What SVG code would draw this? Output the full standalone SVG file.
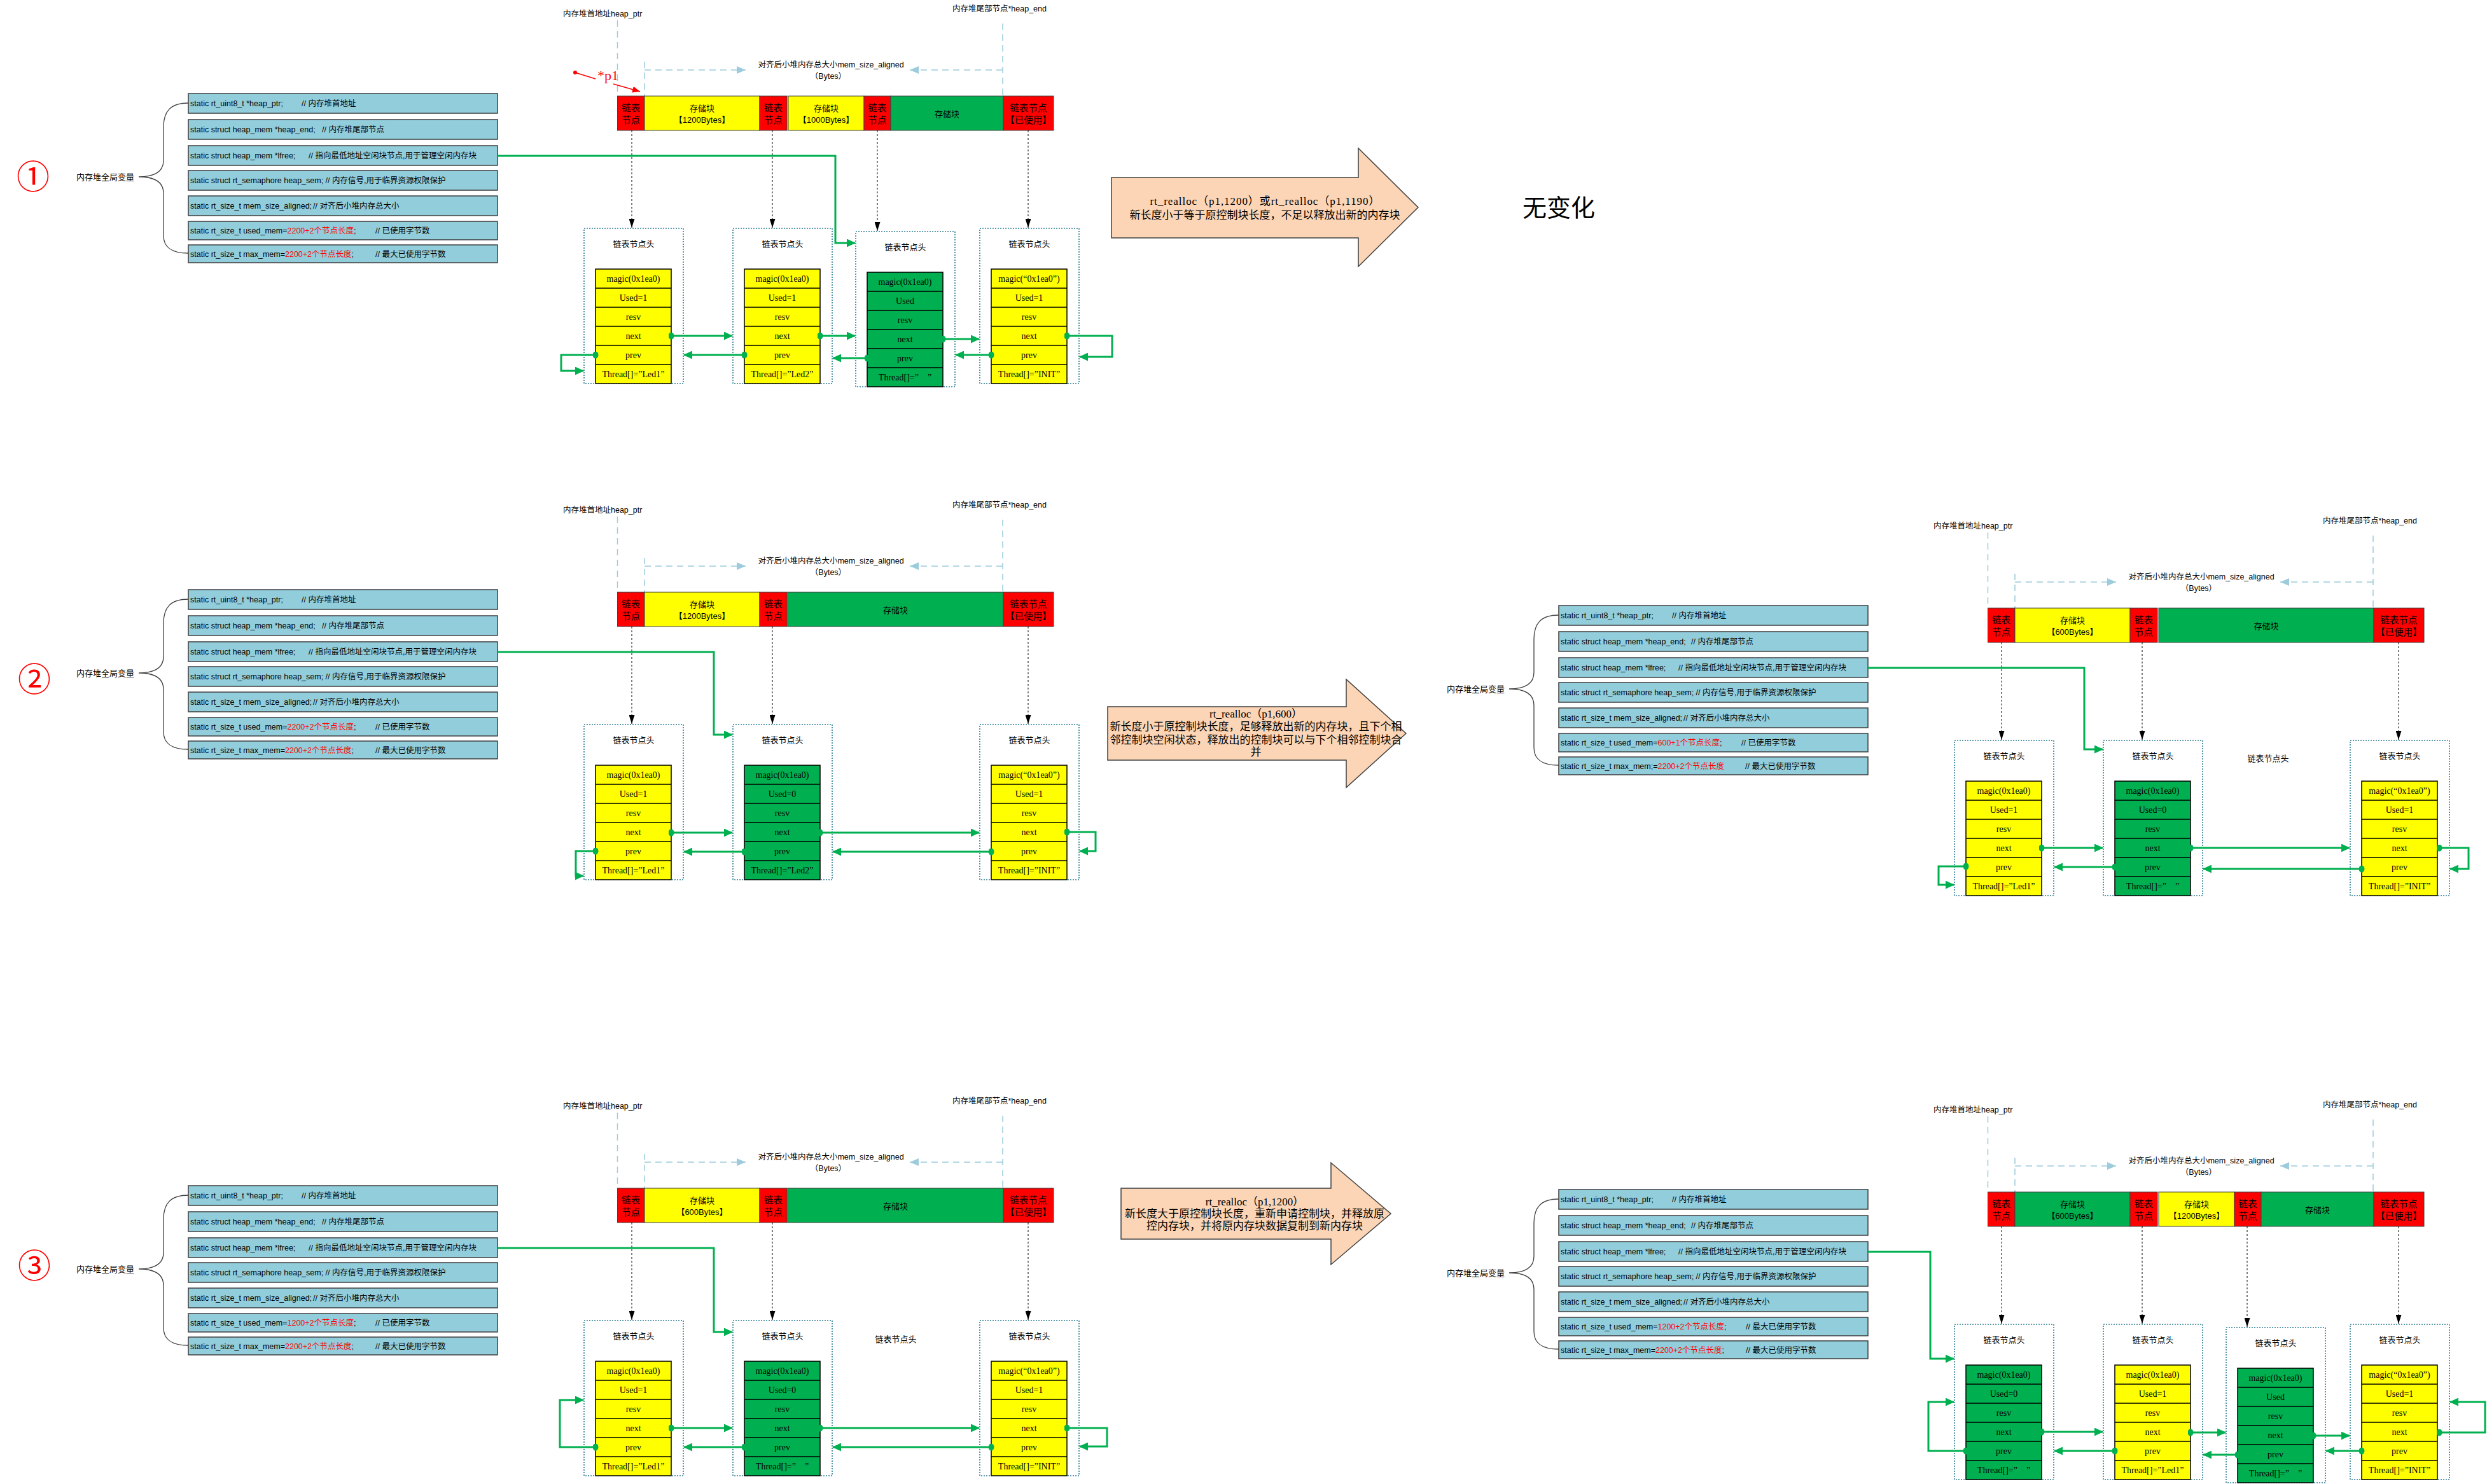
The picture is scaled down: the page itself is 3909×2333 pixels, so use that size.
<svg xmlns="http://www.w3.org/2000/svg" width="3909" height="2333" viewBox="0 0 3909 2333">
<defs>
<style>
text{font-family:"Liberation Sans","Noto Sans CJK SC",sans-serif;fill:#000}
.pt{font-size:12.5px}
.red{fill:#FF0000}
.lbl{font-size:13px}
.vb{fill:#92CDDC;stroke:#3F3F3F;stroke-width:1.5}
.brace{fill:none;stroke:#404040;stroke-width:1.3}
.dim{fill:none;stroke:#9CCBDB;stroke-width:1.5;stroke-dasharray:10,7}
.dima{fill:none;stroke:#9CCBDB;stroke-width:1.5;stroke-dasharray:10,7;marker-end:url(#ba)}
.dt{font-size:12.5px;text-anchor:middle}
.rd{fill:#FF0000;stroke:#404040;stroke-width:1}
.yl{fill:#FFFF00;stroke:#404040;stroke-width:1}
.gn{fill:#00B050;stroke:#404040;stroke-width:1}
.b13{font-size:13px;text-anchor:middle}
.b14{font-size:14.5px;text-anchor:middle}
.kd{fill:none;stroke:#000;stroke-width:1;stroke-dasharray:3,3;marker-end:url(#ka)}
.nb{fill:none;stroke:#2E7D96;stroke-width:1.6;stroke-dasharray:2,2}
.fy{fill:#FFFF00;stroke:#000;stroke-width:1.5}
.fg{fill:#00B050;stroke:#000;stroke-width:1.5}
.rl{stroke:#000;stroke-width:1.5;fill:none}
.ft{font-family:"Liberation Serif","Noto Sans CJK SC",serif;font-size:14px;text-anchor:middle}
.nl{font-size:13px;text-anchor:middle}
.gl{fill:none;stroke:#00B050;stroke-width:3;marker-end:url(#ga)}
.gc{fill:none;stroke:#00B050;stroke-width:3;marker-start:url(#gd);marker-end:url(#ga)}
.ar{fill:#FBD5B5;stroke:#404040;stroke-width:1.5}
.at{font-family:"Liberation Serif","Noto Sans CJK SC",serif;font-size:17px;text-anchor:middle}
.big{font-family:"Liberation Serif","Noto Sans CJK SC",serif;font-size:38px}
.circ{font-family:"Noto Sans CJK SC",sans-serif;font-size:52px;fill:#FF0000;text-anchor:middle}
.p1{font-family:"Liberation Serif",serif;font-size:22px;fill:#FF0000}
</style>
<marker id="ga" viewBox="0 0 14 13" refX="13" refY="6.5" markerWidth="14" markerHeight="13" orient="auto" markerUnits="userSpaceOnUse"><path d="M0,0L14,6.5L0,13z" fill="#00B050"/></marker>
<marker id="gd" viewBox="0 0 9 11" refX="4.5" refY="5.5" markerWidth="9" markerHeight="11" markerUnits="userSpaceOnUse"><ellipse cx="4.5" cy="5.5" rx="4.5" ry="5.5" fill="#00B050"/></marker>
<marker id="ka" viewBox="0 0 14 9" refX="14" refY="4.5" markerWidth="14" markerHeight="9" orient="auto" markerUnits="userSpaceOnUse"><path d="M0,0L14,4.5L0,9z" fill="#000"/></marker>
<marker id="ba" viewBox="0 0 14 12" refX="14" refY="6" markerWidth="14" markerHeight="12" orient="auto" markerUnits="userSpaceOnUse"><path d="M0,0L14,6L0,12z" fill="#9CCBDB"/></marker>
<marker id="ra" viewBox="0 0 12 10" refX="12" refY="5" markerWidth="12" markerHeight="10" orient="auto" markerUnits="userSpaceOnUse"><path d="M0,0L12,5L0,10z" fill="#FF0000"/></marker>
</defs>
<rect width="3909" height="2333" fill="#FFFFFF"/>

<!-- circled numbers -->
<text id="num1" class="circ" x="52" y="297">①</text>
<text id="num2" class="circ" x="54" y="1087">②</text>
<text id="num3" class="circ" x="54" y="2009">③</text>

<!-- ================= SECTION 1 ================= -->
<g id="sec1" transform="translate(0,0)">
 <g id="s1-vars">
  <text class="lbl" x="120" y="283">内存堆全局变量</text>
  <path class="brace" d="M296,162 C268,162 257,175 257,200 L257,252 C257,270 242,278 218,278 C242,278 257,286 257,304 L257,370 C257,388 268,398 296,398"/>
  <rect class="vb" x="296" y="147" width="486" height="31"/>
  <rect class="vb" x="296" y="188" width="486" height="31"/>
  <rect class="vb" x="296" y="229" width="486" height="31"/>
  <rect class="vb" x="296" y="268" width="486" height="31"/>
  <rect class="vb" x="296" y="308" width="486" height="31"/>
  <rect class="vb" x="296" y="348" width="486" height="29"/>
  <rect class="vb" x="296" y="385" width="486" height="28"/>
  <text class="pt" x="299" y="167">static rt_uint8_t *heap_ptr;<tspan x="474">// 内存堆首地址</tspan></text>
  <text class="pt" x="299" y="208">static struct heap_mem *heap_end;<tspan x="506">// 内存堆尾部节点</tspan></text>
  <text class="pt" x="299" y="249">static struct heap_mem *lfree;<tspan x="485">// 指向最低地址空闲块节点,用于管理空闲内存块</tspan></text>
  <text class="pt" x="299" y="288">static struct rt_semaphore heap_sem; // 内存信号,用于临界资源权限保护</text>
  <text class="pt" x="299" y="328">static rt_size_t mem_size_aligned;<tspan x="492">// 对齐后小堆内存总大小</tspan></text>
  <text class="pt" x="299" y="367">static rt_size_t used_mem=<tspan class="red">2200+2个节点长度</tspan>;<tspan x="590">// 已使用字节数</tspan></text>
  <text class="pt" x="299" y="403.5">static rt_size_t max_mem=<tspan class="red">2200+2个节点长度</tspan>;<tspan x="590">// 最大已使用字节数</tspan></text>
 </g>
 <g id="s1-dims">
  <text class="pt" x="885" y="26">内存堆首地址heap_ptr</text>
  <text class="pt" x="1497" y="18">内存堆尾部节点*heap_end</text>
  <path class="dim" d="M970.5,32V151M1013,97V151M1576,37V151"/>
  <path class="dima" d="M1013,110H1172"/>
  <path class="dima" d="M1576,110H1430"/>
  <text class="dt" x="1306" y="106">对齐后小堆内存总大小mem_size_aligned</text>
  <text class="dt" x="1302" y="124">（Bytes）</text>
 </g>
 <g id="s1-p1">
  <circle cx="904" cy="114" r="3" fill="#FF0000"/>
  <path d="M904,114L936,124" stroke="#FF0000" stroke-width="1.5"/>
  <path d="M964,132L1006,144" stroke="#FF0000" stroke-width="1.5" marker-end="url(#ra)"/>
  <text class="p1" x="939" y="126">*p1</text>
 </g>
 <g id="s1-heap">
  <rect class="rd" x="970.5" y="151" width="42.5" height="54"/>
  <text class="b14" x="991.75" y="175">链表</text><text class="b14" x="991.75" y="194">节点</text>
  <rect class="yl" x="1013" y="151" width="181" height="54"/>
  <text class="b13" x="1103.5" y="175">存储块</text><text class="b13" x="1103.5" y="193">【1200Bytes】</text>
  <rect class="rd" x="1194" y="151" width="43" height="54"/>
  <text class="b14" x="1215.5" y="175">链表</text><text class="b14" x="1215.5" y="194">节点</text>
  <rect class="yl" x="1239" y="151" width="119" height="54"/>
  <text class="b13" x="1298.5" y="175">存储块</text><text class="b13" x="1298.5" y="193">【1000Bytes】</text>
  <rect class="rd" x="1358" y="151" width="42" height="54"/>
  <text class="b14" x="1379" y="175">链表</text><text class="b14" x="1379" y="194">节点</text>
  <rect class="gn" x="1400" y="151" width="177" height="54"/>
  <text class="b13" x="1488.5" y="184">存储块</text>
  <rect class="rd" x="1577" y="151" width="79" height="54"/>
  <text class="b14" x="1616.5" y="175">链表节点</text><text class="b14" x="1616.5" y="194">【已使用】</text>
 </g>
 <g id="s1-n1" transform="translate(918,359)">
  <rect class="nb" width="156" height="244"/>
  <text class="nl" x="78" y="29">链表节点头</text>
  <rect class="fy" x="18" y="64" width="119" height="180"/>
  <path class="rl" d="M18,94h119M18,124h119M18,154h119M18,184h119M18,214h119"/>
  <text class="ft" x="77.5" y="84">magic(0x1ea0)</text><text class="ft" x="77.5" y="114">Used=1</text><text class="ft" x="77.5" y="144">resv</text><text class="ft" x="77.5" y="174">next</text><text class="ft" x="77.5" y="204">prev</text><text class="ft" x="77.5" y="234">Thread[]=”Led1”</text>
 </g>
 <g id="s1-n2" transform="translate(1152,359)">
  <rect class="nb" width="156" height="244"/>
  <text class="nl" x="78" y="29">链表节点头</text>
  <rect class="fy" x="18" y="64" width="119" height="180"/>
  <path class="rl" d="M18,94h119M18,124h119M18,154h119M18,184h119M18,214h119"/>
  <text class="ft" x="77.5" y="84">magic(0x1ea0)</text><text class="ft" x="77.5" y="114">Used=1</text><text class="ft" x="77.5" y="144">resv</text><text class="ft" x="77.5" y="174">next</text><text class="ft" x="77.5" y="204">prev</text><text class="ft" x="77.5" y="234">Thread[]=”Led2”</text>
 </g>
 <g id="s1-n3" transform="translate(1345,364)">
  <rect class="nb" width="156" height="244"/>
  <text class="nl" x="78" y="29">链表节点头</text>
  <rect class="fg" x="18" y="64" width="119" height="180"/>
  <path class="rl" d="M18,94h119M18,124h119M18,154h119M18,184h119M18,214h119"/>
  <text class="ft" x="77.5" y="84">magic(0x1ea0)</text><text class="ft" x="77.5" y="114">Used</text><text class="ft" x="77.5" y="144">resv</text><text class="ft" x="77.5" y="174">next</text><text class="ft" x="77.5" y="204">prev</text><text class="ft" x="77.5" y="234" xml:space="preserve">Thread[]=”    ”</text>
 </g>
 <g id="s1-n4" transform="translate(1540,359)">
  <rect class="nb" width="156" height="244"/>
  <text class="nl" x="78" y="29">链表节点头</text>
  <rect class="fy" x="18" y="64" width="119" height="180"/>
  <path class="rl" d="M18,94h119M18,124h119M18,154h119M18,184h119M18,214h119"/>
  <text class="ft" x="77.5" y="84">magic(“0x1ea0”)</text><text class="ft" x="77.5" y="114">Used=1</text><text class="ft" x="77.5" y="144">resv</text><text class="ft" x="77.5" y="174">next</text><text class="ft" x="77.5" y="204">prev</text><text class="ft" x="77.5" y="234">Thread[]=”INIT”</text>
 </g>
 <g id="s1-connectors">
  <path class="kd" d="M993,205V358"/><path class="kd" d="M1214,205V358"/><path class="kd" d="M1379,205V363"/><path class="kd" d="M1616,205V358"/>
  <path class="gl" d="M782,245H1313V382H1344"/>
  <path class="gc" d="M1055,528H1151"/>
  <path class="gc" d="M1170,558H1075"/>
  <path class="gc" d="M936,558H882V583H917"/>
  <path class="gc" d="M1289,528H1344"/>
  <path class="gc" d="M1363,563H1309"/>
  <path class="gc" d="M1482,533H1539"/>
  <path class="gc" d="M1558,558H1502"/>
  <path class="gc" d="M1677,528H1748V561H1697"/>
 </g>
</g>

<!-- ================= SECTION 2 LEFT ================= -->
<g id="sec2L" transform="translate(0,780)">
 <g id="s2l-vars">
  <text class="lbl" x="120" y="283">内存堆全局变量</text>
  <path class="brace" d="M296,162 C268,162 257,175 257,200 L257,252 C257,270 242,278 218,278 C242,278 257,286 257,304 L257,370 C257,388 268,398 296,398"/>
  <rect class="vb" x="296" y="147" width="486" height="31"/>
  <rect class="vb" x="296" y="188" width="486" height="31"/>
  <rect class="vb" x="296" y="229" width="486" height="31"/>
  <rect class="vb" x="296" y="268" width="486" height="31"/>
  <rect class="vb" x="296" y="308" width="486" height="31"/>
  <rect class="vb" x="296" y="348" width="486" height="29"/>
  <rect class="vb" x="296" y="385" width="486" height="28"/>
  <text class="pt" x="299" y="167">static rt_uint8_t *heap_ptr;<tspan x="474">// 内存堆首地址</tspan></text>
  <text class="pt" x="299" y="208">static struct heap_mem *heap_end;<tspan x="506">// 内存堆尾部节点</tspan></text>
  <text class="pt" x="299" y="249">static struct heap_mem *lfree;<tspan x="485">// 指向最低地址空闲块节点,用于管理空闲内存块</tspan></text>
  <text class="pt" x="299" y="288">static struct rt_semaphore heap_sem; // 内存信号,用于临界资源权限保护</text>
  <text class="pt" x="299" y="328">static rt_size_t mem_size_aligned;<tspan x="492">// 对齐后小堆内存总大小</tspan></text>
  <text class="pt" x="299" y="367">static rt_size_t used_mem=<tspan class="red">2200+2个节点长度</tspan>;<tspan x="590">// 已使用字节数</tspan></text>
  <text class="pt" x="299" y="403.5">static rt_size_t max_mem=<tspan class="red">2200+2个节点长度</tspan>;<tspan x="590">// 最大已使用字节数</tspan></text>
 </g>
 <g id="s2l-dims">
  <text class="pt" x="885" y="26">内存堆首地址heap_ptr</text>
  <text class="pt" x="1497" y="18">内存堆尾部节点*heap_end</text>
  <path class="dim" d="M970.5,32V151M1013,97V151M1576,37V151"/>
  <path class="dima" d="M1013,110H1172"/>
  <path class="dima" d="M1576,110H1430"/>
  <text class="dt" x="1306" y="106">对齐后小堆内存总大小mem_size_aligned</text>
  <text class="dt" x="1302" y="124">（Bytes）</text>
 </g>
 <g id="s2l-heap">
  <rect class="rd" x="970.5" y="151" width="42.5" height="54"/>
  <text class="b14" x="991.75" y="175">链表</text><text class="b14" x="991.75" y="194">节点</text>
  <rect class="yl" x="1013" y="151" width="181" height="54"/>
  <text class="b13" x="1103.5" y="175">存储块</text><text class="b13" x="1103.5" y="193">【1200Bytes】</text>
  <rect class="rd" x="1194" y="151" width="43" height="54"/>
  <text class="b14" x="1215.5" y="175">链表</text><text class="b14" x="1215.5" y="194">节点</text>
  <rect class="gn" x="1238" y="151" width="339" height="54"/>
  <text class="b13" x="1407.5" y="184">存储块</text>
  <rect class="rd" x="1577" y="151" width="79" height="54"/>
  <text class="b14" x="1616.5" y="175">链表节点</text><text class="b14" x="1616.5" y="194">【已使用】</text>
 </g>
 <g id="s2l-n1" transform="translate(918,359)">
  <rect class="nb" width="156" height="244"/>
  <text class="nl" x="78" y="29">链表节点头</text>
  <rect class="fy" x="18" y="64" width="119" height="180"/>
  <path class="rl" d="M18,94h119M18,124h119M18,154h119M18,184h119M18,214h119"/>
  <text class="ft" x="77.5" y="84">magic(0x1ea0)</text><text class="ft" x="77.5" y="114">Used=1</text><text class="ft" x="77.5" y="144">resv</text><text class="ft" x="77.5" y="174">next</text><text class="ft" x="77.5" y="204">prev</text><text class="ft" x="77.5" y="234">Thread[]=”Led1”</text>
 </g>
 <g id="s2l-n2" transform="translate(1152,359)">
  <rect class="nb" width="156" height="244"/>
  <text class="nl" x="78" y="29">链表节点头</text>
  <rect class="fg" x="18" y="64" width="119" height="180"/>
  <path class="rl" d="M18,94h119M18,124h119M18,154h119M18,184h119M18,214h119"/>
  <text class="ft" x="77.5" y="84">magic(0x1ea0)</text><text class="ft" x="77.5" y="114">Used=0</text><text class="ft" x="77.5" y="144">resv</text><text class="ft" x="77.5" y="174">next</text><text class="ft" x="77.5" y="204">prev</text><text class="ft" x="77.5" y="234">Thread[]=”Led2”</text>
 </g>
 <g id="s2l-n4" transform="translate(1540,359)">
  <rect class="nb" width="156" height="244"/>
  <text class="nl" x="78" y="29">链表节点头</text>
  <rect class="fy" x="18" y="64" width="119" height="180"/>
  <path class="rl" d="M18,94h119M18,124h119M18,154h119M18,184h119M18,214h119"/>
  <text class="ft" x="77.5" y="84">magic(“0x1ea0”)</text><text class="ft" x="77.5" y="114">Used=1</text><text class="ft" x="77.5" y="144">resv</text><text class="ft" x="77.5" y="174">next</text><text class="ft" x="77.5" y="204">prev</text><text class="ft" x="77.5" y="234">Thread[]=”INIT”</text>
 </g>
 <g id="s2l-connectors">
  <path class="kd" d="M993,205V358"/><path class="kd" d="M1214,205V358"/><path class="kd" d="M1616,205V358"/>
  <path class="gl" d="M782,245H1122V375H1151"/>
  <path class="gc" d="M1055,529H1151"/>
  <path class="gc" d="M1170,559H1075"/>
  <path class="gc" d="M936,558H905V597H917"/>
  <path class="gc" d="M1289,529H1539"/>
  <path class="gc" d="M1558,559H1309"/>
  <path class="gc" d="M1677,528H1722V558H1697"/>
 </g>
</g>

<!-- ================= SECTION 3 LEFT ================= -->
<g id="sec3L" transform="translate(0,1717)">
 <g id="s3l-vars">
  <text class="lbl" x="120" y="283">内存堆全局变量</text>
  <path class="brace" d="M296,162 C268,162 257,175 257,200 L257,252 C257,270 242,278 218,278 C242,278 257,286 257,304 L257,370 C257,388 268,398 296,398"/>
  <rect class="vb" x="296" y="147" width="486" height="31"/>
  <rect class="vb" x="296" y="188" width="486" height="31"/>
  <rect class="vb" x="296" y="229" width="486" height="31"/>
  <rect class="vb" x="296" y="268" width="486" height="31"/>
  <rect class="vb" x="296" y="308" width="486" height="31"/>
  <rect class="vb" x="296" y="348" width="486" height="29"/>
  <rect class="vb" x="296" y="385" width="486" height="28"/>
  <text class="pt" x="299" y="167">static rt_uint8_t *heap_ptr;<tspan x="474">// 内存堆首地址</tspan></text>
  <text class="pt" x="299" y="208">static struct heap_mem *heap_end;<tspan x="506">// 内存堆尾部节点</tspan></text>
  <text class="pt" x="299" y="249">static struct heap_mem *lfree;<tspan x="485">// 指向最低地址空闲块节点,用于管理空闲内存块</tspan></text>
  <text class="pt" x="299" y="288">static struct rt_semaphore heap_sem; // 内存信号,用于临界资源权限保护</text>
  <text class="pt" x="299" y="328">static rt_size_t mem_size_aligned;<tspan x="492">// 对齐后小堆内存总大小</tspan></text>
  <text class="pt" x="299" y="367">static rt_size_t used_mem=<tspan class="red">1200+2个节点长度</tspan>;<tspan x="590">// 已使用字节数</tspan></text>
  <text class="pt" x="299" y="403.5">static rt_size_t max_mem=<tspan class="red">2200+2个节点长度</tspan>;<tspan x="590">// 最大已使用字节数</tspan></text>
 </g>
 <g id="s3l-dims">
  <text class="pt" x="885" y="26">内存堆首地址heap_ptr</text>
  <text class="pt" x="1497" y="18">内存堆尾部节点*heap_end</text>
  <path class="dim" d="M970.5,32V151M1013,97V151M1576,37V151"/>
  <path class="dima" d="M1013,110H1172"/>
  <path class="dima" d="M1576,110H1430"/>
  <text class="dt" x="1306" y="106">对齐后小堆内存总大小mem_size_aligned</text>
  <text class="dt" x="1302" y="124">（Bytes）</text>
 </g>
 <g id="s3l-heap">
  <rect class="rd" x="970.5" y="151" width="42.5" height="54"/>
  <text class="b14" x="991.75" y="175">链表</text><text class="b14" x="991.75" y="194">节点</text>
  <rect class="yl" x="1013" y="151" width="181" height="54"/>
  <text class="b13" x="1103.5" y="175">存储块</text><text class="b13" x="1103.5" y="193">【600Bytes】</text>
  <rect class="rd" x="1194" y="151" width="43" height="54"/>
  <text class="b14" x="1215.5" y="175">链表</text><text class="b14" x="1215.5" y="194">节点</text>
  <rect class="gn" x="1238" y="151" width="339" height="54"/>
  <text class="b13" x="1407.5" y="184">存储块</text>
  <rect class="rd" x="1577" y="151" width="79" height="54"/>
  <text class="b14" x="1616.5" y="175">链表节点</text><text class="b14" x="1616.5" y="194">【已使用】</text>
 </g>
 <g id="s3l-n1" transform="translate(918,359)">
  <rect class="nb" width="156" height="244"/>
  <text class="nl" x="78" y="29">链表节点头</text>
  <rect class="fy" x="18" y="64" width="119" height="180"/>
  <path class="rl" d="M18,94h119M18,124h119M18,154h119M18,184h119M18,214h119"/>
  <text class="ft" x="77.5" y="84">magic(0x1ea0)</text><text class="ft" x="77.5" y="114">Used=1</text><text class="ft" x="77.5" y="144">resv</text><text class="ft" x="77.5" y="174">next</text><text class="ft" x="77.5" y="204">prev</text><text class="ft" x="77.5" y="234">Thread[]=”Led1”</text>
 </g>
 <g id="s3l-n2" transform="translate(1152,359)">
  <rect class="nb" width="156" height="244"/>
  <text class="nl" x="78" y="29">链表节点头</text>
  <rect class="fg" x="18" y="64" width="119" height="180"/>
  <path class="rl" d="M18,94h119M18,124h119M18,154h119M18,184h119M18,214h119"/>
  <text class="ft" x="77.5" y="84">magic(0x1ea0)</text><text class="ft" x="77.5" y="114">Used=0</text><text class="ft" x="77.5" y="144">resv</text><text class="ft" x="77.5" y="174">next</text><text class="ft" x="77.5" y="204">prev</text><text class="ft" x="77.5" y="234" xml:space="preserve">Thread[]=”    ”</text>
 </g>
 <text id="s3l-n3label" class="nl" x="1408" y="393">链表节点头</text>
 <g id="s3l-n4" transform="translate(1540,359)">
  <rect class="nb" width="156" height="244"/>
  <text class="nl" x="78" y="29">链表节点头</text>
  <rect class="fy" x="18" y="64" width="119" height="180"/>
  <path class="rl" d="M18,94h119M18,124h119M18,154h119M18,184h119M18,214h119"/>
  <text class="ft" x="77.5" y="84">magic(“0x1ea0”)</text><text class="ft" x="77.5" y="114">Used=1</text><text class="ft" x="77.5" y="144">resv</text><text class="ft" x="77.5" y="174">next</text><text class="ft" x="77.5" y="204">prev</text><text class="ft" x="77.5" y="234">Thread[]=”INIT”</text>
 </g>
 <g id="s3l-connectors">
  <path class="kd" d="M993,205V358"/><path class="kd" d="M1214,205V358"/><path class="kd" d="M1616,205V358"/>
  <path class="gl" d="M782,245H1122V377H1151"/>
  <path class="gc" d="M1055,528H1151"/>
  <path class="gc" d="M1170,558H1075"/>
  <path class="gc" d="M936,558H880V484H917"/>
  <path class="gc" d="M1289,528H1539"/>
  <path class="gc" d="M1558,558H1309"/>
  <path class="gc" d="M1677,528H1740V557H1697"/>
 </g>
</g>

<!-- ================= SECTION 2 RIGHT ================= -->
<g id="sec2R" transform="translate(2154,805)">
 <g id="s2r-vars">
  <text class="lbl" x="120" y="283">内存堆全局变量</text>
  <path class="brace" d="M296,162 C268,162 257,175 257,200 L257,252 C257,270 242,278 218,278 C242,278 257,286 257,304 L257,370 C257,388 268,398 296,398"/>
  <rect class="vb" x="296" y="147" width="486" height="31"/>
  <rect class="vb" x="296" y="188" width="486" height="31"/>
  <rect class="vb" x="296" y="229" width="486" height="31"/>
  <rect class="vb" x="296" y="268" width="486" height="31"/>
  <rect class="vb" x="296" y="308" width="486" height="31"/>
  <rect class="vb" x="296" y="348" width="486" height="29"/>
  <rect class="vb" x="296" y="385" width="486" height="28"/>
  <text class="pt" x="299" y="167">static rt_uint8_t *heap_ptr;<tspan x="474">// 内存堆首地址</tspan></text>
  <text class="pt" x="299" y="208">static struct heap_mem *heap_end;<tspan x="504">// 内存堆尾部节点</tspan></text>
  <text class="pt" x="299" y="249">static struct heap_mem *lfree;<tspan x="484">// 指向最低地址空闲块节点,用于管理空闲内存块</tspan></text>
  <text class="pt" x="299" y="288">static struct rt_semaphore heap_sem; // 内存信号,用于临界资源权限保护</text>
  <text class="pt" x="299" y="328">static rt_size_t mem_size_aligned;<tspan x="492">// 对齐后小堆内存总大小</tspan></text>
  <text class="pt" x="299" y="367">static rt_size_t used_mem=<tspan class="red">600+1个节点长度</tspan>;<tspan x="583">// 已使用字节数</tspan></text>
  <text class="pt" x="299" y="403.5">static rt_size_t max_mem;=<tspan class="red">2200+2个节点长度</tspan><tspan x="589">// 最大已使用字节数</tspan></text>
 </g>
 <g id="s2r-dims">
  <text class="pt" x="885" y="26">内存堆首地址heap_ptr</text>
  <text class="pt" x="1497" y="18">内存堆尾部节点*heap_end</text>
  <path class="dim" d="M970.5,32V151M1013,97V151M1576,37V151"/>
  <path class="dima" d="M1013,110H1172"/>
  <path class="dima" d="M1576,110H1430"/>
  <text class="dt" x="1306" y="106">对齐后小堆内存总大小mem_size_aligned</text>
  <text class="dt" x="1302" y="124">（Bytes）</text>
 </g>
 <g id="s2r-heap">
  <rect class="rd" x="970.5" y="151" width="42.5" height="54"/>
  <text class="b14" x="991.75" y="175">链表</text><text class="b14" x="991.75" y="194">节点</text>
  <rect class="yl" x="1013" y="151" width="181" height="54"/>
  <text class="b13" x="1103.5" y="175">存储块</text><text class="b13" x="1103.5" y="193">【600Bytes】</text>
  <rect class="rd" x="1194" y="151" width="43" height="54"/>
  <text class="b14" x="1215.5" y="175">链表</text><text class="b14" x="1215.5" y="194">节点</text>
  <rect class="gn" x="1239" y="151" width="338" height="54"/>
  <text class="b13" x="1408" y="184">存储块</text>
  <rect class="rd" x="1577" y="151" width="79" height="54"/>
  <text class="b14" x="1616.5" y="175">链表节点</text><text class="b14" x="1616.5" y="194">【已使用】</text>
 </g>
 <g id="s2r-n1" transform="translate(918,359)">
  <rect class="nb" width="156" height="244"/>
  <text class="nl" x="78" y="29">链表节点头</text>
  <rect class="fy" x="18" y="64" width="119" height="180"/>
  <path class="rl" d="M18,94h119M18,124h119M18,154h119M18,184h119M18,214h119"/>
  <text class="ft" x="77.5" y="84">magic(0x1ea0)</text><text class="ft" x="77.5" y="114">Used=1</text><text class="ft" x="77.5" y="144">resv</text><text class="ft" x="77.5" y="174">next</text><text class="ft" x="77.5" y="204">prev</text><text class="ft" x="77.5" y="234">Thread[]=”Led1”</text>
 </g>
 <g id="s2r-n2" transform="translate(1152,359)">
  <rect class="nb" width="156" height="244"/>
  <text class="nl" x="78" y="29">链表节点头</text>
  <rect class="fg" x="18" y="64" width="119" height="180"/>
  <path class="rl" d="M18,94h119M18,124h119M18,154h119M18,184h119M18,214h119"/>
  <text class="ft" x="77.5" y="84">magic(0x1ea0)</text><text class="ft" x="77.5" y="114">Used=0</text><text class="ft" x="77.5" y="144">resv</text><text class="ft" x="77.5" y="174">next</text><text class="ft" x="77.5" y="204">prev</text><text class="ft" x="77.5" y="234" xml:space="preserve">Thread[]=”    ”</text>
 </g>
 <text id="s2r-n3label" class="nl" x="1411" y="392">链表节点头</text>
 <g id="s2r-n4" transform="translate(1540,359)">
  <rect class="nb" width="156" height="244"/>
  <text class="nl" x="78" y="29">链表节点头</text>
  <rect class="fy" x="18" y="64" width="119" height="180"/>
  <path class="rl" d="M18,94h119M18,124h119M18,154h119M18,184h119M18,214h119"/>
  <text class="ft" x="77.5" y="84">magic(“0x1ea0”)</text><text class="ft" x="77.5" y="114">Used=1</text><text class="ft" x="77.5" y="144">resv</text><text class="ft" x="77.5" y="174">next</text><text class="ft" x="77.5" y="204">prev</text><text class="ft" x="77.5" y="234">Thread[]=”INIT”</text>
 </g>
 <g id="s2r-connectors">
  <path class="kd" d="M992,205V358"/><path class="kd" d="M1213,205V358"/><path class="kd" d="M1616,205V358"/>
  <path class="gl" d="M782,245H1122V373H1151"/>
  <path class="gc" d="M1055,528H1151"/>
  <path class="gc" d="M1170,558H1075"/>
  <path class="gc" d="M936,557H893V586H917"/>
  <path class="gc" d="M1289,528H1539"/>
  <path class="gc" d="M1558,561H1309"/>
  <path class="gc" d="M1680,528H1726V561H1697"/>
 </g>
</g>

<!-- ================= SECTION 3 RIGHT ================= -->
<g id="sec3R" transform="translate(2154,1723)">
 <g id="s3r-vars">
  <text class="lbl" x="120" y="283">内存堆全局变量</text>
  <path class="brace" d="M296,162 C268,162 257,175 257,200 L257,252 C257,270 242,278 218,278 C242,278 257,286 257,304 L257,370 C257,388 268,398 296,398"/>
  <rect class="vb" x="296" y="147" width="486" height="31"/>
  <rect class="vb" x="296" y="188" width="486" height="31"/>
  <rect class="vb" x="296" y="229" width="486" height="31"/>
  <rect class="vb" x="296" y="268" width="486" height="31"/>
  <rect class="vb" x="296" y="308" width="486" height="31"/>
  <rect class="vb" x="296" y="348" width="486" height="29"/>
  <rect class="vb" x="296" y="385" width="486" height="28"/>
  <text class="pt" x="299" y="167">static rt_uint8_t *heap_ptr;<tspan x="474">// 内存堆首地址</tspan></text>
  <text class="pt" x="299" y="208">static struct heap_mem *heap_end;<tspan x="504">// 内存堆尾部节点</tspan></text>
  <text class="pt" x="299" y="249">static struct heap_mem *lfree;<tspan x="484">// 指向最低地址空闲块节点,用于管理空闲内存块</tspan></text>
  <text class="pt" x="299" y="288">static struct rt_semaphore heap_sem; // 内存信号,用于临界资源权限保护</text>
  <text class="pt" x="299" y="328">static rt_size_t mem_size_aligned;<tspan x="492">// 对齐后小堆内存总大小</tspan></text>
  <text class="pt" x="299" y="367">static rt_size_t used_mem=<tspan class="red">1200+2个节点长度</tspan>;<tspan x="590">// 最大已使用字节数</tspan></text>
  <text class="pt" x="299" y="403.5">static rt_size_t max_mem=<tspan class="red">2200+2个节点长度</tspan>;<tspan x="590">// 最大已使用字节数</tspan></text>
 </g>
 <g id="s3r-dims">
  <text class="pt" x="885" y="26">内存堆首地址heap_ptr</text>
  <text class="pt" x="1497" y="18">内存堆尾部节点*heap_end</text>
  <path class="dim" d="M970.5,32V151M1013,97V151M1576,37V151"/>
  <path class="dima" d="M1013,110H1172"/>
  <path class="dima" d="M1576,110H1430"/>
  <text class="dt" x="1306" y="106">对齐后小堆内存总大小mem_size_aligned</text>
  <text class="dt" x="1302" y="124">（Bytes）</text>
 </g>
 <g id="s3r-heap">
  <rect class="rd" x="970.5" y="151" width="42.5" height="54"/>
  <text class="b14" x="991.75" y="175">链表</text><text class="b14" x="991.75" y="194">节点</text>
  <rect class="gn" x="1013" y="151" width="181" height="54"/>
  <text class="b13" x="1103.5" y="175">存储块</text><text class="b13" x="1103.5" y="193">【600Bytes】</text>
  <rect class="rd" x="1194" y="151" width="43" height="54"/>
  <text class="b14" x="1215.5" y="175">链表</text><text class="b14" x="1215.5" y="194">节点</text>
  <rect class="yl" x="1239" y="151" width="119" height="54"/>
  <text class="b13" x="1298.5" y="175">存储块</text><text class="b13" x="1298.5" y="193">【1200Bytes】</text>
  <rect class="rd" x="1358" y="151" width="42" height="54"/>
  <text class="b14" x="1379" y="175">链表</text><text class="b14" x="1379" y="194">节点</text>
  <rect class="gn" x="1400" y="151" width="177" height="54"/>
  <text class="b13" x="1488.5" y="184">存储块</text>
  <rect class="rd" x="1577" y="151" width="79" height="54"/>
  <text class="b14" x="1616.5" y="175">链表节点</text><text class="b14" x="1616.5" y="194">【已使用】</text>
 </g>
 <g id="s3r-n1" transform="translate(918,359)">
  <rect class="nb" width="156" height="244"/>
  <text class="nl" x="78" y="29">链表节点头</text>
  <rect class="fg" x="18" y="64" width="119" height="180"/>
  <path class="rl" d="M18,94h119M18,124h119M18,154h119M18,184h119M18,214h119"/>
  <text class="ft" x="77.5" y="84">magic(0x1ea0)</text><text class="ft" x="77.5" y="114">Used=0</text><text class="ft" x="77.5" y="144">resv</text><text class="ft" x="77.5" y="174">next</text><text class="ft" x="77.5" y="204">prev</text><text class="ft" x="77.5" y="234" xml:space="preserve">Thread[]=”    ”</text>
 </g>
 <g id="s3r-n2" transform="translate(1152,359)">
  <rect class="nb" width="156" height="244"/>
  <text class="nl" x="78" y="29">链表节点头</text>
  <rect class="fy" x="18" y="64" width="119" height="180"/>
  <path class="rl" d="M18,94h119M18,124h119M18,154h119M18,184h119M18,214h119"/>
  <text class="ft" x="77.5" y="84">magic(0x1ea0)</text><text class="ft" x="77.5" y="114">Used=1</text><text class="ft" x="77.5" y="144">resv</text><text class="ft" x="77.5" y="174">next</text><text class="ft" x="77.5" y="204">prev</text><text class="ft" x="77.5" y="234">Thread[]=”Led1”</text>
 </g>
 <g id="s3r-n3" transform="translate(1345,364)">
  <rect class="nb" width="156" height="244"/>
  <text class="nl" x="78" y="29">链表节点头</text>
  <rect class="fg" x="18" y="64" width="119" height="180"/>
  <path class="rl" d="M18,94h119M18,124h119M18,154h119M18,184h119M18,214h119"/>
  <text class="ft" x="77.5" y="84">magic(0x1ea0)</text><text class="ft" x="77.5" y="114">Used</text><text class="ft" x="77.5" y="144">resv</text><text class="ft" x="77.5" y="174">next</text><text class="ft" x="77.5" y="204">prev</text><text class="ft" x="77.5" y="234" xml:space="preserve">Thread[]=”    ”</text>
 </g>
 <g id="s3r-n4" transform="translate(1540,359)">
  <rect class="nb" width="156" height="244"/>
  <text class="nl" x="78" y="29">链表节点头</text>
  <rect class="fy" x="18" y="64" width="119" height="180"/>
  <path class="rl" d="M18,94h119M18,124h119M18,154h119M18,184h119M18,214h119"/>
  <text class="ft" x="77.5" y="84">magic(“0x1ea0”)</text><text class="ft" x="77.5" y="114">Used=1</text><text class="ft" x="77.5" y="144">resv</text><text class="ft" x="77.5" y="174">next</text><text class="ft" x="77.5" y="204">prev</text><text class="ft" x="77.5" y="234">Thread[]=”INIT”</text>
 </g>
 <g id="s3r-connectors">
  <path class="kd" d="M992,205V358"/><path class="kd" d="M1213,205V358"/><path class="kd" d="M1378,205V363"/><path class="kd" d="M1616,205V358"/>
  <path class="gl" d="M782,245H880V413H917"/>
  <path class="gc" d="M936,558H877V481H917"/>
  <path class="gc" d="M1055,528H1151"/>
  <path class="gc" d="M1170,558H1075"/>
  <path class="gc" d="M1289,529H1344"/>
  <path class="gc" d="M1363,564H1309"/>
  <path class="gc" d="M1482,534H1539"/>
  <path class="gc" d="M1558,558H1502"/>
  <path class="gc" d="M1680,529H1752V481H1697"/>
 </g>
</g>

<!-- ================= BIG ARROWS ================= -->
<g id="arrow1">
 <polygon class="ar" points="1747,279 2135,279 2135,233 2229,326 2135,419 2135,374 1747,374"/>
 <text class="at" x="1988" y="322" textLength="361">rt_realloc（p1,1200）或rt_realloc（p1,1190）</text>
 <text class="at" x="1988" y="344">新长度小于等于原控制块长度，不足以释放出新的内存块</text>
</g>
<text id="nochange" class="big" x="2393" y="340">无变化</text>
<g id="arrow2">
 <polygon class="ar" points="1741,1111 2116,1111 2116,1068 2210,1153 2116,1238 2116,1195 1741,1195"/>
 <text class="at" x="1974" y="1128">rt_realloc（p1,600）</text>
 <text class="at" x="1974" y="1148">新长度小于原控制块长度，足够释放出新的内存块，且下个相</text>
 <text class="at" x="1974" y="1169">邻控制块空闲状态，释放出的控制块可以与下个相邻控制块合</text>
 <text class="at" x="1974" y="1188">并</text>
</g>
<g id="arrow3">
 <polygon class="ar" points="1762,1868 2092,1868 2092,1828 2186,1908 2092,1988 2092,1948 1762,1948"/>
 <text class="at" x="1972" y="1895">rt_realloc（p1,1200）</text>
 <text class="at" x="1972" y="1914">新长度大于原控制块长度，重新申请控制块，并释放原</text>
 <text class="at" x="1972" y="1933">控内存块，并将原内存块数据复制到新内存块</text>
</g>
</svg>
